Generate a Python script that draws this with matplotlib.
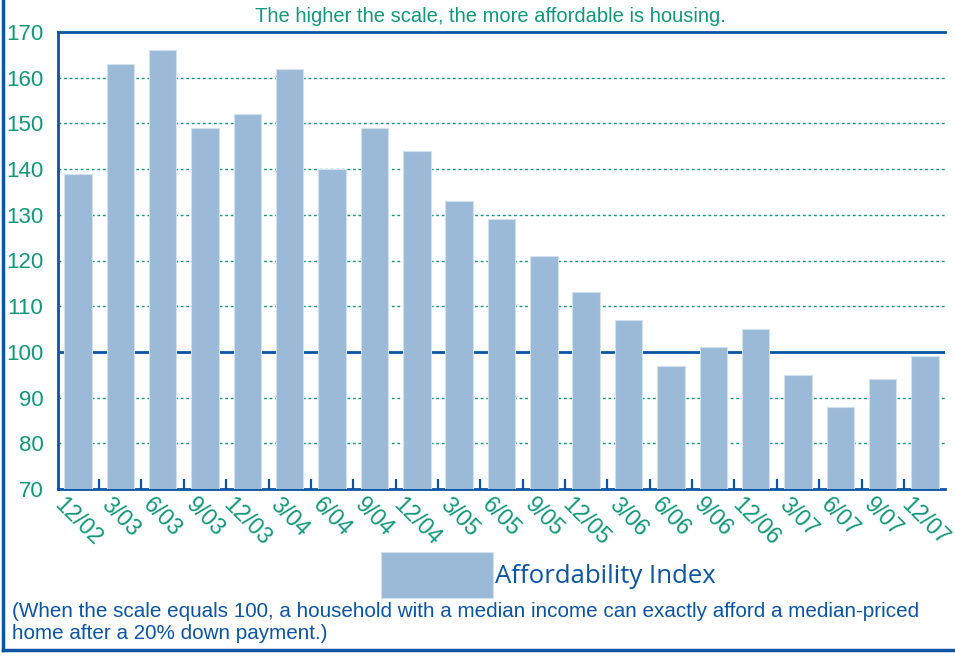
"""Housing affordability index bar chart, 12/02 to 12/07."""
import numpy as np
from matplotlib import pyplot as plt
from matplotlib.lines import Line2D

quarters = ['12/02', '3/03', '6/03', '9/03', '12/03', '3/04', '6/04', '9/04',
            '12/04', '3/05', '6/05', '9/05', '12/05', '3/06', '6/06', '9/06',
            '12/06', '3/07', '6/07', '9/07', '12/07']
index_vals = [139, 163, 166, 149, 152, 162, 140, 149, 144, 133, 129, 121,
              113, 107, 97, 101, 105, 95, 88, 94, 99]
y_ticks = [70, 80, 90, 100, 110, 120, 130, 140, 150, 160, 170]

BLUE = '#0B55A4'
GREEN = '#11977A'
BAR = '#9BBAD7'

plt.rcParams['font.family'] = ['Liberation Sans', 'DejaVu Sans']

fig = plt.figure(figsize=(9.55, 6.56), dpi=100)
ax = fig.add_axes([58 / 955, 1 - 489 / 656, (945 - 58) / 955, (489 - 32) / 656])

x = np.arange(len(quarters))
bars = ax.bar(x, index_vals, width=0.65, color=BAR, edgecolor='#D3E1EE',
              linewidth=0.8, zorder=3, label='Affordability Index')

# dotted grid, solid line at 100
for v in y_ticks[1:-1]:
    if v == 100:
        ax.axhline(v, color=BLUE, lw=2, zorder=1)
    else:
        ax.axhline(v, color=GREEN, lw=1, ls=(0, (2, 2)), zorder=1)

ax.set_xlim(-0.47, 20.47)
ax.set_ylim(70, 170)
ax.set_yticks(y_ticks)
ax.set_yticklabels([str(v) for v in y_ticks], color=GREEN, fontsize=16)
ax.tick_params(axis='y', length=0, pad=10.5)
ax.set_xticks(x)
ax.set_xticklabels(quarters, rotation=-45, ha='center', va='top',
                   color=GREEN, fontsize=16.5)
ax.tick_params(axis='x', which='major', length=0, pad=3)
ax.set_xticks(np.arange(0.5, 20.5, 1), minor=True)
ax.tick_params(axis='x', which='minor', direction='in', length=7, width=1.6,
               color=BLUE)

ax.spines['right'].set_visible(False)
for s in ['left', 'top', 'bottom']:
    ax.spines[s].set_color(BLUE)
    ax.spines[s].set_linewidth(2)
ax.spines['bottom'].set_zorder(2)

fig.text(490 / 955, 1 - 17 / 656, 'The higher the scale, the more affordable is housing.',
         color=GREEN, fontsize=14.5, ha='center', va='center')

leg = fig.legend(handles=[bars], loc='center left',
                 bbox_to_anchor=(368 / 955, 1 - 575 / 656), frameon=False,
                 borderpad=0, handlelength=4.36, handleheight=2.35,
                 handletextpad=0.08, prop={'family': 'Open Sans', 'size': 18.5})
for t in leg.get_texts():
    t.set_color(BLUE)

fig.text(12 / 955, 1 - 602 / 656,
         '(When the scale equals 100, a household with a median income can exactly afford a median-priced\n'
         'home after a 20% down payment.)',
         color=BLUE, fontsize=14.9, ha='left', va='top', linespacing=1.2)

# frame on left and bottom of figure
fig.add_artist(Line2D([2.5 / 955, 2.5 / 955], [6 / 656, 1], color=BLUE, lw=2.5))
fig.add_artist(Line2D([2.5 / 955, 1], [6 / 656, 6 / 656], color=BLUE, lw=2.5))

fig.savefig('out.png', dpi=100)
